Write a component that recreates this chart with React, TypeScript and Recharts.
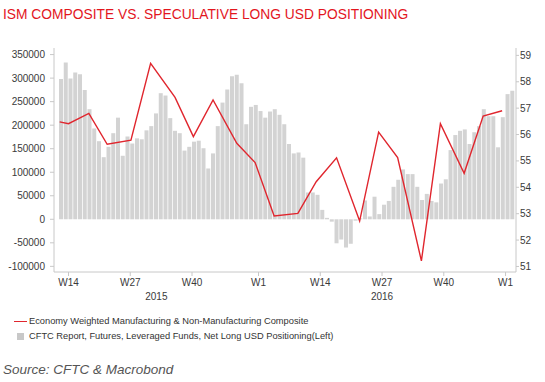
import React from 'react';
import { ComposedChart, Bar, Line, XAxis, YAxis } from 'recharts';

// weekly series starts on the Monday of W12 2015
const SERIES_START = Date.UTC(2015, 2, 16);
const WEEK_MS = 7 * 86400000;
const toWeeks = (iso: string) => (Date.parse(iso + 'T00:00:00Z') - SERIES_START) / WEEK_MS;

// CFTC leveraged funds, net long USD (contracts), one value per week from W12 2015
const cftcNetLong = [
  298000, 333000, 299000, 312000, 308000, 275000, 234000, 193000, 166000, 132000,
  154000, 183000, 216000, 135000, 176000, 161000, 172000, 170000, 189000, 198000,
  225000, 268000, 263000, 215000, 188000, 183000, 146000, 154000, 165000, 167000,
  151000, 108000, 140000, 198000, 248000, 276000, 304000, 307000, 289000, 202000,
  239000, 243000, 230000, 216000, 229000, 234000, 222000, 202000, 160000, 140000,
  142000, 131000, 57000, 57000, 52000, 20000, 3000, -5000, -51000, -43000,
  -60000, -52000, -3000, 2000, 40000, 6000, 48000, 11000, 31000, 39000,
  69000, 84000, 106000, 96000, 96000, 69000, 41000, 54000, 39000, 36000,
  76000, 85000, 147000, 179000, 188000, 191000, 160000, 185000, 198000, 234000,
  219000, 219000, 153000, 217000, 266000, 273000,
];

// ISM economy weighted composite, monthly
const ismDates = [
  '2015-03-17', '2015-03-30', '2015-04-29', '2015-05-26', '2015-06-30', '2015-07-29',
  '2015-09-03', '2015-09-30', '2015-10-29', '2015-12-03', '2015-12-30', '2016-01-27',
  '2016-03-02', '2016-03-29', '2016-04-28', '2016-06-01', '2016-06-29', '2016-07-27',
  '2016-08-31', '2016-09-28', '2016-11-02', '2016-11-30', '2016-12-28',
];
const ismComposite = [
  56.48, 56.41, 56.8, 55.63, 55.79, 58.7, 57.41, 55.92, 57.31, 55.67, 54.94, 52.91,
  53.01, 54.21, 55.12, 52.72, 56.09, 55.13, 51.21, 56.41, 54.53, 56.7, 56.9,
];

const weekTickDates = [
  '2015-03-30', '2015-06-29', '2015-09-28', '2016-01-04',
  '2016-04-04', '2016-07-04', '2016-10-03', '2017-01-02',
];
const weekTickLabels = ['W14', 'W27', 'W40', 'W1', 'W14', 'W27', 'W40', 'W1'];

const yearLabels = ['2015', '2016'];
const yearSpans = [
  ['2015-03-09', '2016-01-04'],
  ['2016-01-04', '2017-01-02'],
];

const leftTicks = [-100000, -50000, 0, 50000, 100000, 150000, 200000, 250000, 300000, 350000];
const rightTicks = [51, 52, 53, 54, 55, 56, 57, 58, 59];

const weekly = cftcNetLong.map((v, i) => ({ x: i + 0.5, cftc: v }));
const monthly = ismDates.map((d, i) => ({ x: toWeeks(d), ism: ismComposite[i] }));
const weekTicks = weekTickDates.map(toWeeks);
const yearTicks = yearSpans.map(([a, b]) => (toWeeks(a) + toWeeks(b)) / 2);

const X_DOMAIN: [number, number] = [-1.05, 96.2];
const FONT = "Arial, 'Liberation Sans', sans-serif";
const AXIS = '#c8c8c8';
const TICK = { fontSize: 10, fill: '#3a3a3a', fontFamily: FONT };

export default function App() {
  return (
    <div style={{ position: 'absolute', left: 0, top: 0, width: 545, height: 382, background: '#fff', fontFamily: FONT }}>
      <div style={{ position: 'absolute', left: 3, top: 7, fontSize: 13.8, color: '#e3161e', whiteSpace: 'nowrap' }}>
        ISM COMPOSITE VS. SPECULATIVE LONG USD POSITIONING
      </div>

      <ComposedChart
        width={545}
        height={310}
        data={weekly}
        margin={{ top: 48, right: 0, bottom: 0, left: 0 }}
      >
        <XAxis
          xAxisId="wk"
          type="number"
          dataKey="x"
          domain={X_DOMAIN}
          allowDataOverflow
          ticks={weekTicks}
          tickFormatter={(_v: number, i: number) => weekTickLabels[i]}
          height={18}
          tickSize={4}
          tickMargin={3}
          tick={TICK}
          stroke={AXIS}
          interval={0}
        />
        <XAxis
          xAxisId="year"
          type="number"
          dataKey="x"
          domain={X_DOMAIN}
          allowDataOverflow
          ticks={yearTicks}
          tickFormatter={(_v: number, i: number) => yearLabels[i]}
          height={20}
          tickSize={0}
          tickMargin={3}
          axisLine={false}
          tickLine={false}
          tick={TICK}
          interval={0}
        />
        <XAxis xAxisId="ism" type="number" dataKey="x" domain={X_DOMAIN} allowDataOverflow hide height={0} />
        <YAxis
          yAxisId="left"
          domain={[-112000, 364000]}
          allowDataOverflow
          ticks={leftTicks}
          interval={0}
          width={54}
          tickSize={4}
          tickMargin={5}
          tick={TICK}
          stroke={AXIS}
        />
        <YAxis
          yAxisId="right"
          orientation="right"
          domain={[50.79, 59.28]}
          allowDataOverflow
          ticks={rightTicks}
          interval={0}
          width={29}
          tickSize={3}
          tickMargin={1}
          tick={TICK}
          stroke={AXIS}
        />
        <Bar
          xAxisId="wk"
          yAxisId="left"
          dataKey="cftc"
          fill="#d3d3d3"
          barSize={4}
          isAnimationActive={false}
        />
        <Line
          xAxisId="ism"
          yAxisId="right"
          data={monthly}
          dataKey="ism"
          type="linear"
          stroke="#e0262e"
          strokeWidth={1.4}
          dot={false}
          isAnimationActive={false}
        />
      </ComposedChart>

      {/* legend */}
      <div style={{ position: 'absolute', left: 14, top: 314, fontSize: 9.3, color: '#333', lineHeight: '15px' }}>
        <div style={{ display: 'flex', alignItems: 'center', whiteSpace: 'nowrap' }}>
          <span style={{ display: 'inline-block', width: 13, height: 0, borderTop: '1.4px solid #e0262e', marginRight: 2 }} />
          Economy Weighted Manufacturing &amp; Non-Manufacturing Composite
        </div>
        <div style={{ display: 'flex', alignItems: 'center', whiteSpace: 'nowrap' }}>
          <span style={{ display: 'inline-block', width: 7, height: 7, background: '#c8c8c8', marginLeft: 3, marginRight: 5 }} />
          CFTC Report, Futures, Leveraged Funds, Net Long USD Positioning(Left)
        </div>
      </div>

      <div style={{ position: 'absolute', left: 3, top: 362, fontSize: 13.5, fontStyle: 'italic', color: '#555', whiteSpace: 'nowrap' }}>
        Source: CFTC &amp; Macrobond
      </div>
    </div>
  );
}
